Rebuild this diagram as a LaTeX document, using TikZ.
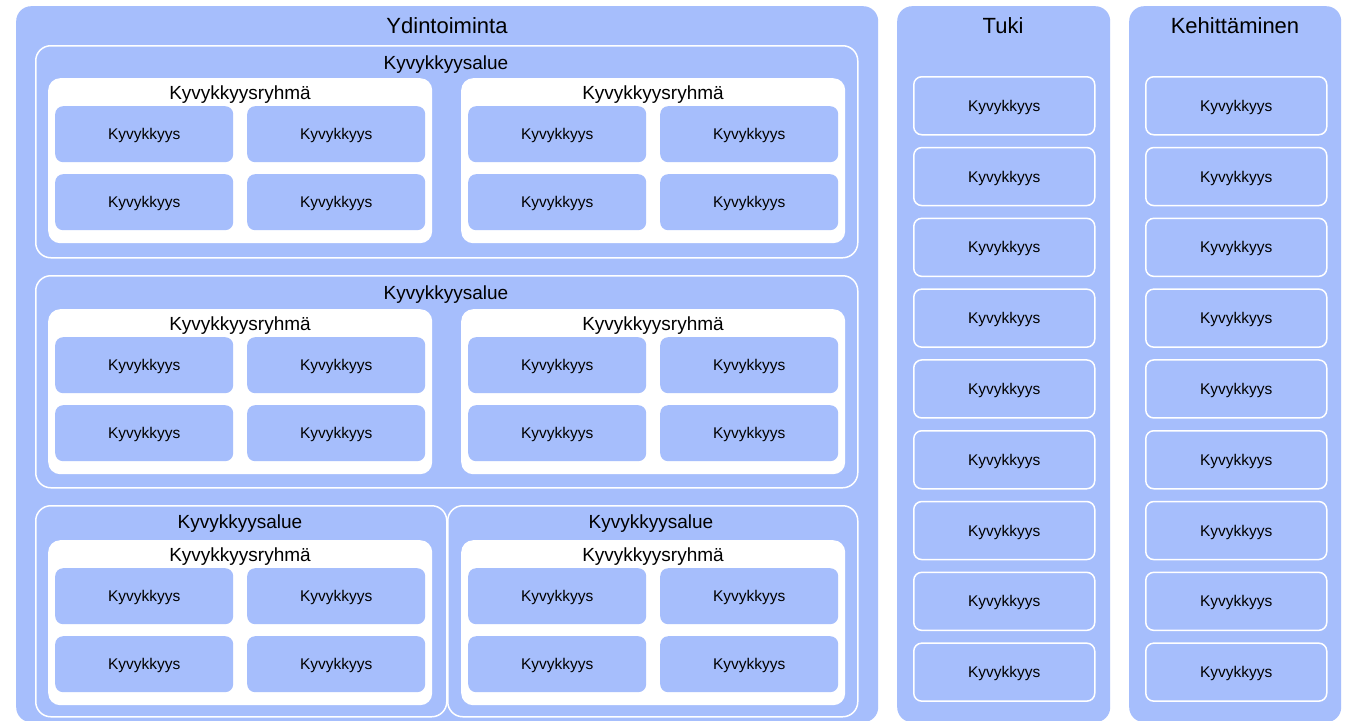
\documentclass[tikz,border=0pt]{standalone}
\usepackage{fontspec}
\setmainfont{Liberation Sans}
\usetikzlibrary{positioning}

\definecolor{kykyblue}{RGB}{166,190,252}

\tikzset{
  column/.style={fill=kykyblue, rounded corners=15pt, anchor=north west, inner sep=0pt},
  area/.style={fill=kykyblue, draw=white, line width=1.5pt, rounded corners=15pt, anchor=north west, inner sep=0pt},
  group/.style={fill=white, rounded corners=12pt, anchor=north west, inner sep=0pt, minimum width=384pt, minimum height=165pt},
  kyky/.style={fill=kykyblue, rounded corners=8pt, anchor=north west, inner sep=0pt, minimum width=178pt, minimum height=56pt, text depth=0pt, font=\fontsize{15.5}{18}\selectfont},
  kykyframed/.style={kyky, draw=white, line width=1.5pt, minimum width=181pt, minimum height=58pt},
  coltitle/.style={font=\fontsize{22}{26}\selectfont},
  subtitle/.style={font=\fontsize{19}{22}\selectfont}
}

\begin{document}
\begin{tikzpicture}[x=1pt,y=-1pt]
\useasboundingbox (0,0) rectangle (1346,720);
\fill[white] (0,0) rectangle (1346,720);
\clip (0,0) rectangle (1346,720);

% columns
\node[column, minimum width=862pt, minimum height=716pt] (ydin) at (16,6) {};
\node[column, minimum width=213pt, minimum height=716pt] (tuki) at (897,6) {};
\node[column, minimum width=212pt, minimum height=716pt] (kehit) at (1129,6) {};
\node[coltitle] (ydin-t) at (447,26) {Ydintoiminta};
\node[coltitle] (tuki-t) at (1003,26) {Tuki};
\node[coltitle] (kehit-t) at (1235,26) {Kehittäminen};

% kyvykkyysalueet
\node[area, minimum width=822pt, minimum height=212pt] (alue1) at (35,45) {};
\node[area, minimum width=822pt, minimum height=212pt] (alue2) at (35,275) {};
\node[area, minimum width=411pt, minimum height=211pt] (alue3) at (35,505) {};
\node[area, minimum width=410pt, minimum height=211pt] (alue4) at (447,505) {};
\node[subtitle] (alue1-t) at (446,65) {Kyvykkyysalue};
\node[subtitle] (alue2-t) at (446,295) {Kyvykkyysalue};
\node[subtitle] (alue3-t) at (240,524) {Kyvykkyysalue};
\node[subtitle] (alue4-t) at (651,524) {Kyvykkyysalue};

% kyvykkyysryhmät
\foreach \n/\gx/\gy in {1/48/78, 2/461/78, 3/48/309, 4/461/309, 5/48/540, 6/461/540}{
  \node[group] (ryhma\n) at (\gx,\gy) {};
  \node[subtitle] (ryhma\n-t) at (\gx+192,\gy+17) {Kyvykkyysryhmä};
  \node[kyky] (ryhma\n-1) at (\gx+7,\gy+28) {Kyvykkyys};
  \node[kyky] (ryhma\n-2) at (\gx+199,\gy+28) {Kyvykkyys};
  \node[kyky] (ryhma\n-3) at (\gx+7,\gy+96) {Kyvykkyys};
  \node[kyky] (ryhma\n-4) at (\gx+199,\gy+96) {Kyvykkyys};
}

% tuki ja kehittaminen
\foreach \i in {0,...,8}{
  \node[kykyframed] (tuki-\i) at (913,{76+70.8*\i}) {Kyvykkyys};
  \node[kykyframed] (kehit-\i) at (1145,{76+70.8*\i}) {Kyvykkyys};
}

\end{tikzpicture}
\end{document}
